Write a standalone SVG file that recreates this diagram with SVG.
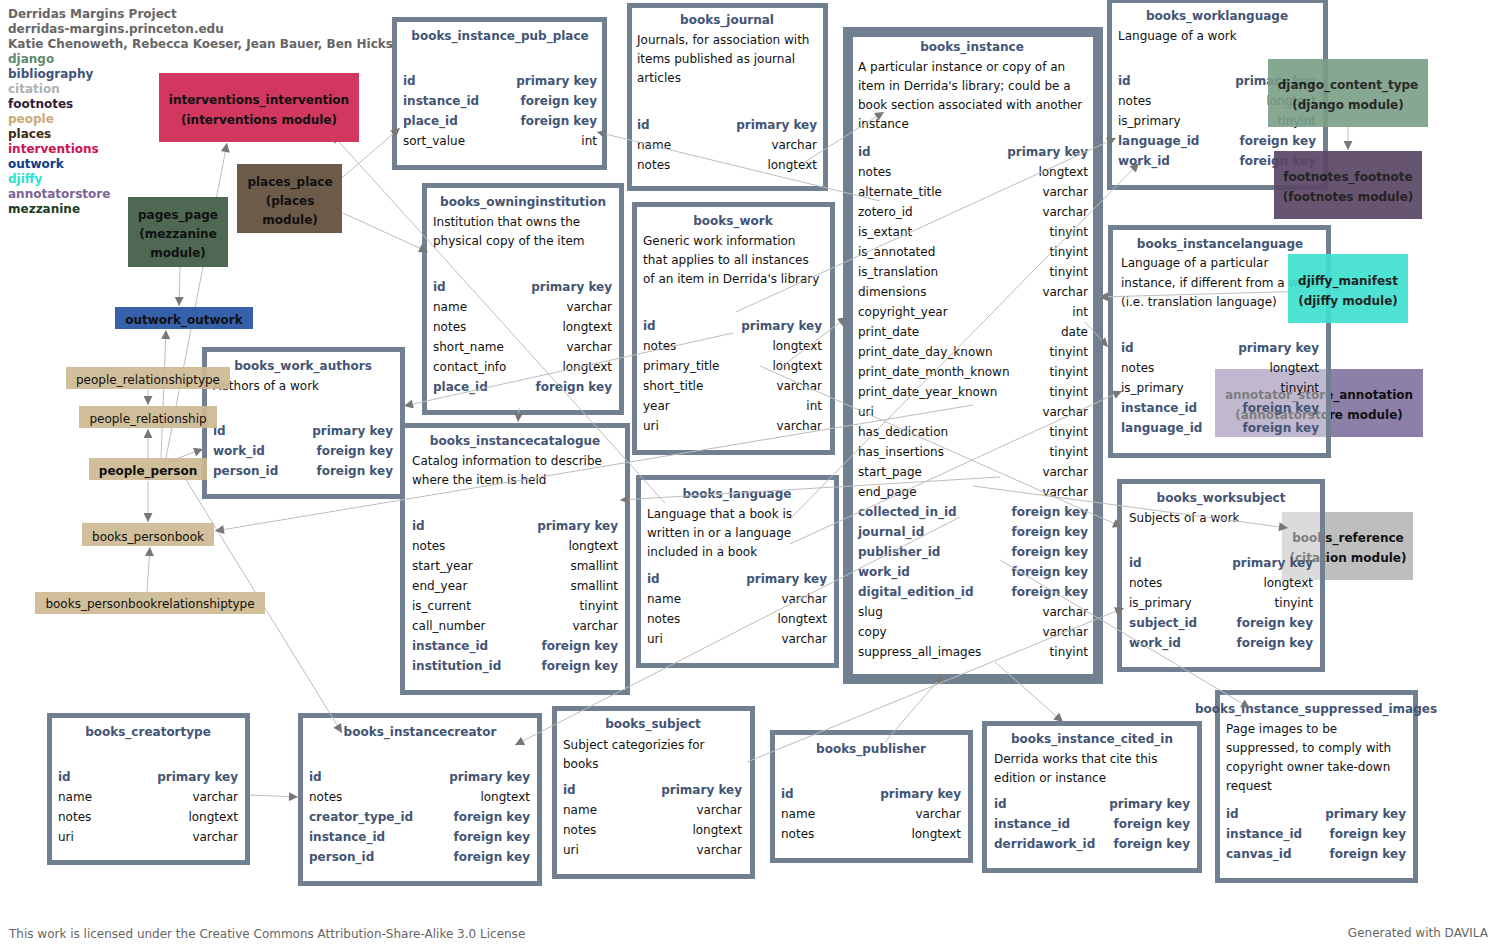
<svg xmlns="http://www.w3.org/2000/svg" width="1497" height="948" viewBox="0 0 1497 948">
<style>
text{font-family:"DejaVu Sans","Liberation Sans",sans-serif;font-size:12px}
.h{fill:#666;font-weight:bold}
.tt{fill:#435574;font-weight:bold;text-anchor:middle}
.k{fill:#435574;font-weight:bold}
.f{fill:#111}
.r{text-anchor:end}
.tb{fill:#fff;fill-opacity:.45;stroke:#708090;stroke-width:5}
.m{font-weight:bold;text-anchor:middle;fill:#111}
.mr{text-anchor:middle;fill:#111}
.c line{stroke:#bdbdbd;stroke-width:1;marker-end:url(#a)}
.pp{fill:#cdb991;fill-opacity:.92}
</style>
<defs>
<marker id="a" viewBox="0 0 10 10" refX="10" refY="5" markerWidth="10" markerHeight="9" markerUnits="userSpaceOnUse" orient="auto"><path d="M0,0L10,5L0,10z" fill="#777"/></marker>
</defs>
<rect width="1497" height="948" fill="#fff"/>
<g id="legend">
<text x="8" y="18" class="h">Derridas Margins Project</text>
<text x="8" y="33" class="h">derridas-margins.princeton.edu</text>
<text x="8" y="48" class="h">Katie Chenoweth, Rebecca Koeser, Jean Bauer, Ben Hicks</text>
<text x="8" y="63" font-weight="bold" fill="#5f8c6e">django</text>
<text x="8" y="78" font-weight="bold" fill="#3e5478">bibliography</text>
<text x="8" y="93" font-weight="bold" fill="#b0b0b0">citation</text>
<text x="8" y="108" font-weight="bold" fill="#2d1e38">footnotes</text>
<text x="8" y="123" font-weight="bold" fill="#c8aa78">people</text>
<text x="8" y="138" font-weight="bold" fill="#3e2c16">places</text>
<text x="8" y="153" font-weight="bold" fill="#d01050">interventions</text>
<text x="8" y="168" font-weight="bold" fill="#0d3c8c">outwork</text>
<text x="8" y="183" font-weight="bold" fill="#30e0d2">djiffy</text>
<text x="8" y="198" font-weight="bold" fill="#7b6397">annotatorstore</text>
<text x="8" y="213" font-weight="bold" fill="#1c3a24">mezzanine</text>
</g>
<g id="annotator_store_annotation"><rect x="1215" y="369" width="208" height="68" fill="#8c7fa8"/><text x="1319" y="399" class="m">annotator_store_annotation</text><text x="1319" y="419" class="m">(annotatorstore module)</text></g>
<g id="books_reference"><rect x="1282" y="512" width="131" height="68" fill="#bebebe"/><text x="1348" y="542" class="m">books_reference</text><text x="1348" y="562" class="m">(citation module)</text></g>

<g id="books_instance_pub_place"><rect class="tb" x="394.5" y="19.5" width="210" height="148"/>
<text x="500" y="40" class="tt">books_instance_pub_place</text>
<text x="403" y="85" class="k">id</text><text x="597" y="85" class="k r">primary key</text>
<text x="403" y="105" class="k">instance_id</text><text x="597" y="105" class="k r">foreign key</text>
<text x="403" y="125" class="k">place_id</text><text x="597" y="125" class="k r">foreign key</text>
<text x="403" y="145" class="f">sort_value</text><text x="597" y="145" class="f r">int</text>
</g>
<g id="books_journal"><rect class="tb" x="629.5" y="5.5" width="196" height="183"/>
<text x="727" y="24" class="tt">books_journal</text>
<text x="637" y="44" class="f">Journals, for association with</text>
<text x="637" y="63" class="f">items published as journal</text>
<text x="637" y="82" class="f">articles</text>
<text x="637" y="129" class="k">id</text><text x="817" y="129" class="k r">primary key</text>
<text x="637" y="149" class="f">name</text><text x="817" y="149" class="f r">varchar</text>
<text x="637" y="169" class="f">notes</text><text x="817" y="169" class="f r">longtext</text>
</g>
<g id="books_instance"><rect class="tb" x="848" y="32" width="250" height="647" style="stroke-width:10"/>
<text x="972" y="51" class="tt">books_instance</text>
<text x="858" y="71" class="f">A particular instance or copy of an</text>
<text x="858" y="90" class="f">item in Derrida's library; could be a</text>
<text x="858" y="109" class="f">book section associated with another</text>
<text x="858" y="128" class="f">instance</text>
<text x="858" y="156" class="k">id</text><text x="1088" y="156" class="k r">primary key</text>
<text x="858" y="176" class="f">notes</text><text x="1088" y="176" class="f r">longtext</text>
<text x="858" y="196" class="f">alternate_title</text><text x="1088" y="196" class="f r">varchar</text>
<text x="858" y="216" class="f">zotero_id</text><text x="1088" y="216" class="f r">varchar</text>
<text x="858" y="236" class="f">is_extant</text><text x="1088" y="236" class="f r">tinyint</text>
<text x="858" y="256" class="f">is_annotated</text><text x="1088" y="256" class="f r">tinyint</text>
<text x="858" y="276" class="f">is_translation</text><text x="1088" y="276" class="f r">tinyint</text>
<text x="858" y="296" class="f">dimensions</text><text x="1088" y="296" class="f r">varchar</text>
<text x="858" y="316" class="f">copyright_year</text><text x="1088" y="316" class="f r">int</text>
<text x="858" y="336" class="f">print_date</text><text x="1088" y="336" class="f r">date</text>
<text x="858" y="356" class="f">print_date_day_known</text><text x="1088" y="356" class="f r">tinyint</text>
<text x="858" y="376" class="f">print_date_month_known</text><text x="1088" y="376" class="f r">tinyint</text>
<text x="858" y="396" class="f">print_date_year_known</text><text x="1088" y="396" class="f r">tinyint</text>
<text x="858" y="416" class="f">uri</text><text x="1088" y="416" class="f r">varchar</text>
<text x="858" y="436" class="f">has_dedication</text><text x="1088" y="436" class="f r">tinyint</text>
<text x="858" y="456" class="f">has_insertions</text><text x="1088" y="456" class="f r">tinyint</text>
<text x="858" y="476" class="f">start_page</text><text x="1088" y="476" class="f r">varchar</text>
<text x="858" y="496" class="f">end_page</text><text x="1088" y="496" class="f r">varchar</text>
<text x="858" y="516" class="k">collected_in_id</text><text x="1088" y="516" class="k r">foreign key</text>
<text x="858" y="536" class="k">journal_id</text><text x="1088" y="536" class="k r">foreign key</text>
<text x="858" y="556" class="k">publisher_id</text><text x="1088" y="556" class="k r">foreign key</text>
<text x="858" y="576" class="k">work_id</text><text x="1088" y="576" class="k r">foreign key</text>
<text x="858" y="596" class="k">digital_edition_id</text><text x="1088" y="596" class="k r">foreign key</text>
<text x="858" y="616" class="f">slug</text><text x="1088" y="616" class="f r">varchar</text>
<text x="858" y="636" class="f">copy</text><text x="1088" y="636" class="f r">varchar</text>
<text x="858" y="656" class="f">suppress_all_images</text><text x="1088" y="656" class="f r">tinyint</text>
</g>
<g id="books_worklanguage"><rect class="tb" x="1109.5" y="0.5" width="216" height="187"/>
<text x="1217" y="20" class="tt">books_worklanguage</text>
<text x="1118" y="40" class="f">Language of a work</text>
<text x="1118" y="85" class="k">id</text><text x="1316" y="85" class="k r">primary key</text>
<text x="1118" y="105" class="f">notes</text><text x="1316" y="105" class="f r">longtext</text>
<text x="1118" y="125" class="f">is_primary</text><text x="1316" y="125" class="f r">tinyint</text>
<text x="1118" y="145" class="k">language_id</text><text x="1316" y="145" class="k r">foreign key</text>
<text x="1118" y="165" class="k">work_id</text><text x="1316" y="165" class="k r">foreign key</text>
</g>
<g id="books_instancelanguage"><rect class="tb" x="1110.5" y="227.5" width="218" height="228"/>
<text x="1220" y="248" class="tt">books_instancelanguage</text>
<text x="1121" y="267" class="f">Language of a particular</text>
<text x="1121" y="287" class="f">instance, if different from a work</text>
<text x="1121" y="306" class="f">(i.e. translation language)</text>
<text x="1121" y="352" class="k">id</text><text x="1319" y="352" class="k r">primary key</text>
<text x="1121" y="372" class="f">notes</text><text x="1319" y="372" class="f r">longtext</text>
<text x="1121" y="392" class="f">is_primary</text><text x="1319" y="392" class="f r">tinyint</text>
<text x="1121" y="412" class="k">instance_id</text><text x="1319" y="412" class="k r">foreign key</text>
<text x="1121" y="432" class="k">language_id</text><text x="1319" y="432" class="k r">foreign key</text>
</g>
<g id="books_worksubject"><rect class="tb" x="1119.5" y="481.5" width="203" height="188"/>
<text x="1221" y="502" class="tt">books_worksubject</text>
<text x="1129" y="522" class="f">Subjects of a work</text>
<text x="1129" y="567" class="k">id</text><text x="1313" y="567" class="k r">primary key</text>
<text x="1129" y="587" class="f">notes</text><text x="1313" y="587" class="f r">longtext</text>
<text x="1129" y="607" class="f">is_primary</text><text x="1313" y="607" class="f r">tinyint</text>
<text x="1129" y="627" class="k">subject_id</text><text x="1313" y="627" class="k r">foreign key</text>
<text x="1129" y="647" class="k">work_id</text><text x="1313" y="647" class="k r">foreign key</text>
</g>
<g id="books_instance_suppressed_images"><rect class="tb" x="1217.5" y="692.5" width="198" height="188"/>
<text x="1316" y="713" class="tt">books_instance_suppressed_images</text>
<text x="1226" y="733" class="f">Page images to be</text>
<text x="1226" y="752" class="f">suppressed, to comply with</text>
<text x="1226" y="771" class="f">copyright owner take-down</text>
<text x="1226" y="790" class="f">request</text>
<text x="1226" y="818" class="k">id</text><text x="1406" y="818" class="k r">primary key</text>
<text x="1226" y="838" class="k">instance_id</text><text x="1406" y="838" class="k r">foreign key</text>
<text x="1226" y="858" class="k">canvas_id</text><text x="1406" y="858" class="k r">foreign key</text>
</g>
<g id="books_instance_cited_in"><rect class="tb" x="984.5" y="723.5" width="215" height="147"/>
<text x="1092" y="743" class="tt">books_instance_cited_in</text>
<text x="994" y="763" class="f">Derrida works that cite this</text>
<text x="994" y="782" class="f">edition or instance</text>
<text x="994" y="808" class="k">id</text><text x="1190" y="808" class="k r">primary key</text>
<text x="994" y="828" class="k">instance_id</text><text x="1190" y="828" class="k r">foreign key</text>
<text x="994" y="848" class="k">derridawork_id</text><text x="1190" y="848" class="k r">foreign key</text>
</g>
<g id="books_publisher"><rect class="tb" x="772.5" y="732.5" width="198" height="128"/>
<text x="871" y="753" class="tt">books_publisher</text>
<text x="781" y="798" class="k">id</text><text x="961" y="798" class="k r">primary key</text>
<text x="781" y="818" class="f">name</text><text x="961" y="818" class="f r">varchar</text>
<text x="781" y="838" class="f">notes</text><text x="961" y="838" class="f r">longtext</text>
</g>
<g id="books_subject"><rect class="tb" x="554.5" y="708.5" width="198" height="168"/>
<text x="653" y="728" class="tt">books_subject</text>
<text x="563" y="749" class="f">Subject categorizies for</text>
<text x="563" y="768" class="f">books</text>
<text x="563" y="794" class="k">id</text><text x="742" y="794" class="k r">primary key</text>
<text x="563" y="814" class="f">name</text><text x="742" y="814" class="f r">varchar</text>
<text x="563" y="834" class="f">notes</text><text x="742" y="834" class="f r">longtext</text>
<text x="563" y="854" class="f">uri</text><text x="742" y="854" class="f r">varchar</text>
</g>
<g id="books_instancecreator"><rect class="tb" x="300.5" y="715.5" width="239" height="168"/>
<text x="420" y="736" class="tt">books_instancecreator</text>
<text x="309" y="781" class="k">id</text><text x="530" y="781" class="k r">primary key</text>
<text x="309" y="801" class="f">notes</text><text x="530" y="801" class="f r">longtext</text>
<text x="309" y="821" class="k">creator_type_id</text><text x="530" y="821" class="k r">foreign key</text>
<text x="309" y="841" class="k">instance_id</text><text x="530" y="841" class="k r">foreign key</text>
<text x="309" y="861" class="k">person_id</text><text x="530" y="861" class="k r">foreign key</text>
</g>
<g id="books_creatortype"><rect class="tb" x="49.5" y="715.5" width="198" height="147"/>
<text x="148" y="736" class="tt">books_creatortype</text>
<text x="58" y="781" class="k">id</text><text x="238" y="781" class="k r">primary key</text>
<text x="58" y="801" class="f">name</text><text x="238" y="801" class="f r">varchar</text>
<text x="58" y="821" class="f">notes</text><text x="238" y="821" class="f r">longtext</text>
<text x="58" y="841" class="f">uri</text><text x="238" y="841" class="f r">varchar</text>
</g>
<g id="books_instancecatalogue"><rect class="tb" x="402.5" y="425.5" width="225" height="267"/>
<text x="515" y="445" class="tt">books_instancecatalogue</text>
<text x="412" y="465" class="f">Catalog information to describe</text>
<text x="412" y="484" class="f">where the item is held</text>
<text x="412" y="530" class="k">id</text><text x="618" y="530" class="k r">primary key</text>
<text x="412" y="550" class="f">notes</text><text x="618" y="550" class="f r">longtext</text>
<text x="412" y="570" class="f">start_year</text><text x="618" y="570" class="f r">smallint</text>
<text x="412" y="590" class="f">end_year</text><text x="618" y="590" class="f r">smallint</text>
<text x="412" y="610" class="f">is_current</text><text x="618" y="610" class="f r">tinyint</text>
<text x="412" y="630" class="f">call_number</text><text x="618" y="630" class="f r">varchar</text>
<text x="412" y="650" class="k">instance_id</text><text x="618" y="650" class="k r">foreign key</text>
<text x="412" y="670" class="k">institution_id</text><text x="618" y="670" class="k r">foreign key</text>
</g>
<g id="books_language"><rect class="tb" x="638.5" y="477.5" width="198" height="188"/>
<text x="737" y="498" class="tt">books_language</text>
<text x="647" y="518" class="f">Language that a book is</text>
<text x="647" y="537" class="f">written in or a language</text>
<text x="647" y="556" class="f">included in a book</text>
<text x="647" y="583" class="k">id</text><text x="827" y="583" class="k r">primary key</text>
<text x="647" y="603" class="f">name</text><text x="827" y="603" class="f r">varchar</text>
<text x="647" y="623" class="f">notes</text><text x="827" y="623" class="f r">longtext</text>
<text x="647" y="643" class="f">uri</text><text x="827" y="643" class="f r">varchar</text>
</g>
<g id="books_work"><rect class="tb" x="634.5" y="204.5" width="198" height="248"/>
<text x="733" y="225" class="tt">books_work</text>
<text x="643" y="245" class="f">Generic work information</text>
<text x="643" y="264" class="f">that applies to all instances</text>
<text x="643" y="283" class="f">of an item in Derrida's library</text>
<text x="643" y="330" class="k">id</text><text x="822" y="330" class="k r">primary key</text>
<text x="643" y="350" class="f">notes</text><text x="822" y="350" class="f r">longtext</text>
<text x="643" y="370" class="f">primary_title</text><text x="822" y="370" class="f r">longtext</text>
<text x="643" y="390" class="f">short_title</text><text x="822" y="390" class="f r">varchar</text>
<text x="643" y="410" class="f">year</text><text x="822" y="410" class="f r">int</text>
<text x="643" y="430" class="f">uri</text><text x="822" y="430" class="f r">varchar</text>
</g>
<g id="books_owninginstitution"><rect class="tb" x="424.5" y="185.5" width="197" height="227"/>
<text x="523" y="206" class="tt">books_owninginstitution</text>
<text x="433" y="226" class="f">Institution that owns the</text>
<text x="433" y="245" class="f">physical copy of the item</text>
<text x="433" y="291" class="k">id</text><text x="612" y="291" class="k r">primary key</text>
<text x="433" y="311" class="f">name</text><text x="612" y="311" class="f r">varchar</text>
<text x="433" y="331" class="f">notes</text><text x="612" y="331" class="f r">longtext</text>
<text x="433" y="351" class="f">short_name</text><text x="612" y="351" class="f r">varchar</text>
<text x="433" y="371" class="f">contact_info</text><text x="612" y="371" class="f r">longtext</text>
<text x="433" y="391" class="k">place_id</text><text x="612" y="391" class="k r">foreign key</text>
</g>
<g id="books_work_authors"><rect class="tb" x="204.5" y="349.5" width="198" height="147"/>
<text x="303" y="370" class="tt">books_work_authors</text>
<text x="213" y="390" class="f">Authors of a work</text>
<text x="213" y="435" class="k">id</text><text x="393" y="435" class="k r">primary key</text>
<text x="213" y="455" class="k">work_id</text><text x="393" y="455" class="k r">foreign key</text>
<text x="213" y="475" class="k">person_id</text><text x="393" y="475" class="k r">foreign key</text>
</g>

<g id="connectors" class="c">
<line x1="180" y1="267" x2="179" y2="306"/>
<line x1="161" y1="458" x2="166" y2="330"/>
<line x1="166" y1="458" x2="227" y2="143"/>
<line x1="148" y1="390" x2="148" y2="405"/>
<line x1="148" y1="458" x2="148" y2="429"/>
<line x1="148" y1="481" x2="148" y2="522"/>
<line x1="147" y1="592" x2="150" y2="547"/>
<line x1="185" y1="478" x2="342" y2="733"/>
<line x1="973" y1="405" x2="215" y2="531"/>
<line x1="733" y1="333" x2="404" y2="406"/>
<line x1="148" y1="469" x2="203" y2="449"/>
<line x1="665" y1="503" x2="332" y2="134"/>
<line x1="337" y1="182" x2="400" y2="128"/>
<line x1="343" y1="213" x2="428" y2="252"/>
<line x1="880" y1="201" x2="597" y2="132"/>
<line x1="519" y1="408" x2="518" y2="422"/>
<line x1="1000" y1="477" x2="620" y2="500"/>
<line x1="960" y1="517" x2="515" y2="745"/>
<line x1="250" y1="795" x2="298" y2="797"/>
<line x1="885" y1="742" x2="943" y2="675"/>
<line x1="747" y1="762" x2="1124" y2="608"/>
<line x1="760" y1="366" x2="1122" y2="527"/>
<line x1="973" y1="486" x2="1288" y2="528"/>
<line x1="1000" y1="560" x2="1250" y2="708"/>
<line x1="995" y1="662" x2="1063" y2="722"/>
<line x1="1348" y1="290" x2="1099" y2="297"/>
<line x1="1085" y1="322" x2="1108" y2="347"/>
<line x1="790" y1="544" x2="1122" y2="391"/>
<line x1="736" y1="312" x2="1116" y2="138"/>
<line x1="790" y1="519" x2="1139" y2="163"/>
<line x1="803" y1="163" x2="884" y2="112"/>
<line x1="1348" y1="127" x2="1348" y2="150"/>
<line x1="780" y1="368" x2="847" y2="317"/>
</g>

<g id="interventions_intervention"><rect x="159" y="73" width="200" height="69" fill="#d2375f"/><text x="259" y="104" class="m">interventions_intervention</text><text x="259" y="124" class="m">(interventions module)</text></g>
<g id="places_place"><rect x="237" y="164" width="105" height="69" fill="#6b5b48"/><text x="290" y="186" class="m">places_place</text><text x="290" y="205" class="m">(places</text><text x="290" y="224" class="m">module)</text></g>
<g id="pages_page"><rect x="128" y="197" width="100" height="70" fill="#4e6854"/><text x="178" y="219" class="m">pages_page</text><text x="178" y="238" class="m">(mezzanine</text><text x="178" y="257" class="m">module)</text></g>
<g id="outwork_outwork"><rect x="115" y="307" width="138" height="22" fill="#3660aa"/><text x="184" y="324" class="m">outwork_outwork</text></g>
<g id="people_relationshiptype"><rect class="pp" x="66" y="367" width="164" height="22"/><text x="148" y="384" class="mr">people_relationshiptype</text></g>
<g id="people_relationship"><rect class="pp" x="79" y="406" width="138" height="22"/><text x="148" y="423" class="mr">people_relationship</text></g>
<g id="people_person"><rect class="pp" x="89" y="458" width="118" height="22"/><text x="148" y="475" class="m">people_person</text></g>
<g id="books_personbook"><rect class="pp" x="82" y="523" width="132" height="23"/><text x="148" y="541" class="mr">books_personbook</text></g>
<g id="books_personbookrelationshiptype"><rect class="pp" x="35" y="592" width="230" height="22"/><text x="150" y="608" class="mr">books_personbookrelationshiptype</text></g>
<g id="django_content_type" opacity="0.9"><rect x="1268" y="59" width="160" height="68" fill="#7a9e87"/><text x="1348" y="89" class="m">django_content_type</text><text x="1348" y="109" class="m">(django module)</text></g>
<g id="footnotes_footnote" opacity="0.92"><rect x="1274" y="151" width="148" height="68" fill="#5a4665"/><text x="1348" y="181" class="m">footnotes_footnote</text><text x="1348" y="201" class="m">(footnotes module)</text></g>
<g id="djiffy_manifest" opacity="0.92"><rect x="1288" y="254" width="120" height="69" fill="#40e0d0"/><text x="1348" y="285" class="m">djiffy_manifest</text><text x="1348" y="305" class="m">(djiffy module)</text></g>

<text x="9" y="938" fill="#666">This work is licensed under the Creative Commons Attribution-Share-Alike 3.0 License</text>
<text x="1488" y="937" fill="#666" text-anchor="end">Generated with DAVILA</text>
</svg>
